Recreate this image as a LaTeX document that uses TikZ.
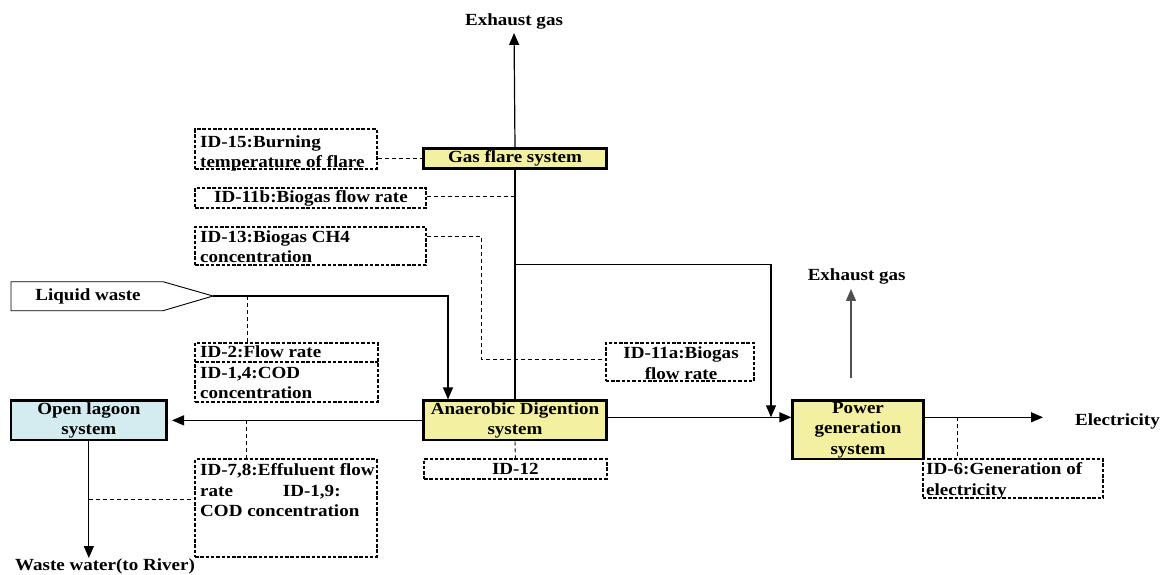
\documentclass[tikz,border=0pt]{standalone}
\usepackage{fontspec}
\setmainfont{Liberation Serif}[FakeStretch=1.12]
\usetikzlibrary{arrows.meta}

\definecolor{procyellow}{RGB}{244,240,162}
\definecolor{lagooncyan}{RGB}{212,236,240}
\definecolor{exhaustgray}{RGB}{80,80,80}

\begin{document}
\begin{tikzpicture}[
  x=1pt, y=-1pt,
  font=\fontsize{17}{20.5}\selectfont\bfseries,
  proc/.style={draw, line width=2.6pt, fill=procyellow, inner sep=0pt, align=center},
  lagoonbox/.style={proc, fill=lagooncyan},
  idline/.style={line width=2pt, dash pattern=on 3.5pt off 1.8pt},
  idbox/.style={draw, idline, inner sep=0pt},
  txt/.style={inner sep=0pt, align=left},
  ctxt/.style={inner sep=0pt, align=center},
  flow/.style={line width=1.2pt, -{Triangle[length=12pt,width=10pt]}},
  tap/.style={line width=0.9pt, dash pattern=on 4pt off 3pt},
]
\useasboundingbox (0,0) rectangle (1173,574);

% ---------- process units ----------
\node[proc, minimum width=183pt, minimum height=20pt] (flare) at (515,158.3) {Gas flare system};
\node[proc, minimum width=183pt, minimum height=39.3pt] (ad) at (515,420.35) {Anaerobic Digention\\system};
\node[lagoonbox, minimum width=155.7pt, minimum height=39.3pt] (lagoon) at (88.85,420.35) {Open lagoon\\system};
\node[proc, minimum width=130.6pt, minimum height=58.3pt] (pg) at (858,429.85) {Power\\generation\\system};

% ---------- liquid waste inlet ----------
\coordinate (lwtip) at (213,296);
\draw[line width=0.9pt] (11,281.7) -- (163,281.7) -- (lwtip) -- (163,310.7) -- (11,310.7) -- cycle;
\node[txt, anchor=base] (lw) at (88,300) {Liquid waste};

% ---------- outputs ----------
\node[ctxt, anchor=base] (exh1) at (514,25) {Exhaust gas};
\node[ctxt, anchor=base] (exh2) at (856.7,280) {Exhaust gas};
\node[ctxt, anchor=base] (elec) at (1117.5,425) {Electricity};
\node[ctxt, anchor=base] (ww) at (105,570) {Waste water(to River)};

% ---------- monitoring points ----------
\node[idbox, minimum width=181.7pt, minimum height=39.7pt] (id15) at (285.85,149.15) {};
\node[txt, anchor=north west] (id15t) at (200,135) {ID-15:Burning\\temperature of flare};

\node[idbox, minimum width=231pt, minimum height=20pt] (id11b) at (310.5,197.7) {};
\node[ctxt, anchor=base] (id11bt) at (311,202.5) {ID-11b:Biogas flow rate};

\node[idbox, minimum width=231pt, minimum height=38.3pt] (id13) at (310.5,245.85) {};
\node[txt, anchor=north west] (id13t) at (200,230.2) {ID-13:Biogas CH4\\concentration};

% inlet flow rate and COD share one frame, split by a divider
\node[idbox, minimum width=182.4pt, minimum height=59pt] (id214) at (286.5,372.2) {};
\node[inner sep=0pt, minimum width=182.4pt, minimum height=19pt] (id2) at (286.5,352.2) {};
\draw[idline] (id2.south west) -- (id2.south east);
\node[txt, anchor=base west] (id2t) at (200,357.3) {ID-2:Flow rate};
\node[txt, anchor=north west] (id14t) at (200,366.7) {ID-1,4:COD\\concentration};

\node[idbox, minimum width=148.3pt, minimum height=38.3pt] (id11a) at (679.85,361.85) {};
\node[ctxt, anchor=north] (id11at) at (681,346.7) {ID-11a:Biogas\\flow rate};

\node[idbox, minimum width=182.7pt, minimum height=20pt] (id12) at (515.35,469) {};
\node[ctxt, anchor=base] (id12t) at (515.35,474) {ID-12};

\node[idbox, minimum width=181.7pt, minimum height=97.4pt] (id78) at (285.85,508) {};
\node[txt, anchor=north west] (id78t) at (200,463.4)
  {ID-7,8:Effuluent flow\\rate\hspace{50pt}ID-1,9:\\COD concentration};

\node[idbox, minimum width=180.6pt, minimum height=39pt] (id6) at (1013,478.8) {};
\node[txt, anchor=north west] (id6t) at (926,462.4) {ID-6:Generation of\\electricity};

% ---------- flows ----------
\coordinate (split) at (515,264.5);
\coordinate (corner) at (771,264.5);
\coordinate (merge) at (771,417.3);
\coordinate (lwturn) at (448,296);
\coordinate (pgexh) at (851,378);
\coordinate (eltip) at (1043,417.3);

\draw[line width=1.2pt] (ad.north) -- (flare.south);
\draw[flow, shorten >=4pt] (flare.north) -- (exh1.south);
\draw[flow] (split) -- (corner) -- (merge);
\draw[flow] (merge -| ad.east) -- (merge -| pg.west);
\draw[flow, shorten >=4pt] (ad.west) -- (lagoon.east);
\draw[flow] (lagoon.south) -- (lagoon.south |- ww.north);
\draw[flow] (lwtip) -- (lwturn) -- (lwturn |- ad.north);
\draw[flow, exhaustgray, shorten >=5pt] (pgexh) -- (pgexh |- exh2.south);
\draw[flow] (eltip -| pg.east) -- (eltip);

% ---------- measurement taps ----------
\coordinate (t13) at (481,236);
\coordinate (tlw) at (247,296);
\coordinate (tout) at (246,420.35);
\coordinate (tww) at (88.85,499);
\coordinate (t6) at (957,417.3);

\draw[tap] (id15.east |- flare.west) -- (flare.west);
\draw[tap] (id11b.east |- 0,196) -- (ad.north |- 0,196);
\draw[tap] (t13 -| id13.east) -- (t13) -- (t13 |- 0,359.3) -- (id11a.west |- 0,359.3);
\draw[tap] (tlw) -- (tlw |- id214.north);
\draw[tap] (tout) -- (tout |- id78.north);
\draw[tap] (tww) -- (tww -| id78.west);
\draw[tap] (ad.south) -- (id12.north);
\draw[tap] (t6) -- (t6 |- id6.north);
\end{tikzpicture}
\end{document}
